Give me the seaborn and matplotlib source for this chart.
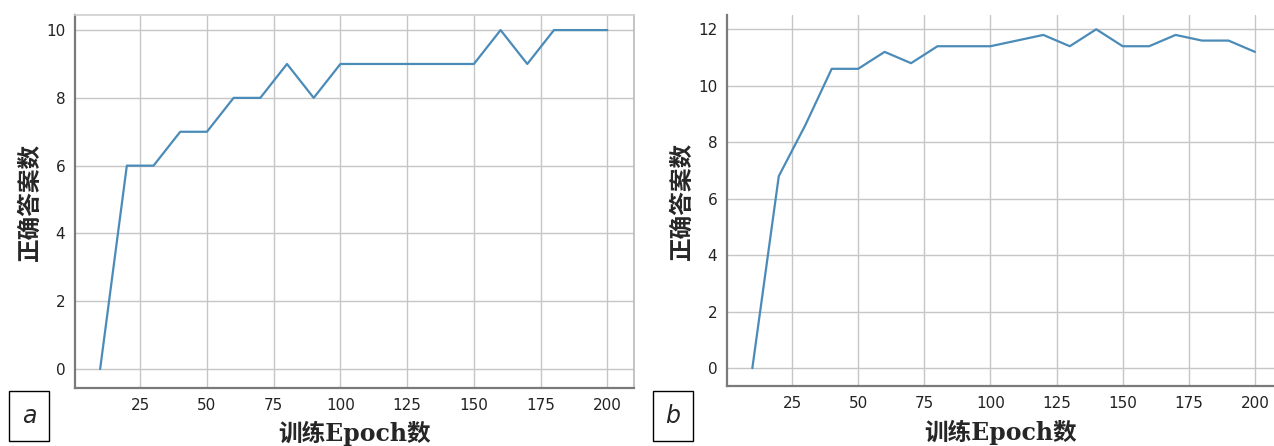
import matplotlib
matplotlib.use("Agg")
import matplotlib.pyplot as plt
import seaborn as sns
import pandas as pd

sns.set_theme(style="white")
plt.rcParams["font.family"] = ["DejaVu Sans", "Noto Sans CJK SC"]

# Training epochs and number of correct answers
epochs = [10, 20, 30, 40, 50, 60, 70, 80, 90, 100,
          110, 120, 130, 140, 150, 160, 170, 180, 190, 200]
correct_a = [0, 6, 6, 7, 7, 8, 8, 9, 8, 9,
             9, 9, 9, 9, 9, 10, 9, 10, 10, 10]
correct_b = [0, 6.8, 8.6, 10.6, 10.6, 11.2, 10.8, 11.4, 11.4, 11.4,
             11.6, 11.8, 11.4, 12.0, 11.4, 11.4, 11.8, 11.6, 11.6, 11.2]

x_ticks = [25, 50, 75, 100, 125, 150, 175, 200]
y_ticks_a = [0, 2, 4, 6, 8, 10]
y_ticks_b = [0, 2, 4, 6, 8, 10, 12]
panel_labels = ["a", "b"]
x_label = "训练Epoch数"
y_label = "正确答案数"

line_color = "#4b8bb8"
grid_color = "#c6c6c6"

fig = plt.figure(figsize=(12.74, 4.46), dpi=100)
ax_a = fig.add_axes([0.0589, 0.130, 0.4388, 0.836])
ax_b = fig.add_axes([0.5706, 0.134, 0.4294, 0.832])

panels = [
    (ax_a, correct_a, y_ticks_a, (0.6, 210.0), (-0.56, 10.44), True),
    (ax_b, correct_b, y_ticks_b, (0.4, 207.2), (-0.64, 12.5), False),
]

label_font = {"family": ["DejaVu Serif", "Noto Sans CJK SC"], "weight": "bold", "size": 17}

for ax, values, yt, xl, yl, show_right in panels:
    df = pd.DataFrame({"epoch": epochs, "correct": values})
    sns.lineplot(data=df, x="epoch", y="correct", ax=ax, color=line_color, linewidth=1.6)
    ax.set_xlim(*xl)
    ax.set_ylim(*yl)
    ax.set_xticks(x_ticks)
    ax.set_yticks(yt)
    ax.grid(True, color=grid_color, linewidth=1.0)
    ax.set_axisbelow(True)
    ax.tick_params(axis="both", length=3, width=1, color="#bbbbbb", labelsize=11,
                   labelcolor="#222222", pad=4)
    for side in ["left", "bottom"]:
        ax.spines[side].set_color("#7a7a7a")
        ax.spines[side].set_linewidth(1.6)
    ax.spines["top"].set_color("#d0d0d0")
    ax.spines["top"].set_visible(show_right)
    ax.spines["right"].set_color("#bbbbbb")
    ax.spines["right"].set_visible(show_right)
    ax.set_xlabel(x_label, fontdict=label_font, labelpad=6)
    ax.set_ylabel(y_label, fontdict=label_font, labelpad=3)

# Boxed panel letters in the lower-left corners
for (x0, y0), letter in zip([(8, 8), (652, 8)], panel_labels):
    fig.text((x0 + 21) / 1274, (y0 + 22) / 446, letter, fontsize=17, style="italic",
             ha="center", va="center",
             bbox=dict(boxstyle="square,pad=0.55", facecolor="white",
                       edgecolor="black", linewidth=1.0))

fig.savefig("out.png", dpi=100)
